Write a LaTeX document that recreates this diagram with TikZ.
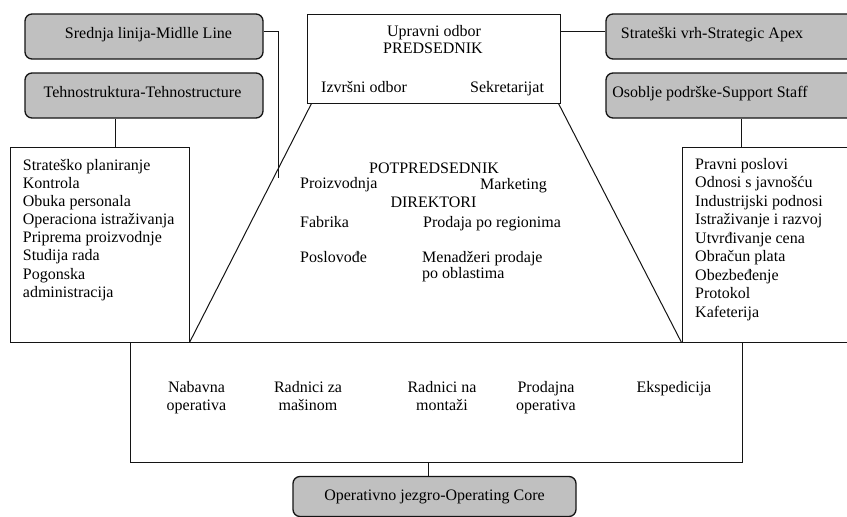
\documentclass[tikz,border=0pt]{standalone}
\usepackage{fontspec}
\setmainfont{Liberation Serif}
\usetikzlibrary{positioning,calc}
\definecolor{PartGrey}{RGB}{192,192,192}
\definecolor{LineBlack}{RGB}{20,20,20}
\tikzset{
  partbox/.style={draw=LineBlack,fill=PartGrey,rounded corners=7pt,
    line width=1.3pt,minimum height=45pt,inner sep=0pt},
  unitbox/.style={draw=LineBlack,line width=1pt,inner sep=0pt},
  link/.style={draw=LineBlack,line width=1pt},
  txt/.style={inner sep=0pt,font=\fontsize{16}{18}\selectfont}
}

\begin{document}
\begin{tikzpicture}[x=1pt,y=-1pt]
  \useasboundingbox (0,0) rectangle (847,517);
  \clip (0,0) rectangle (847,517);
  % grey part labels
  \node[partbox,minimum width=238pt] (middle) at (144,36.5) {};
  \node[partbox,minimum width=238pt] (tehno) at (144,95.5) {};
  \node[partbox,minimum width=274pt] (apex) at (743,36.5) {};
  \node[partbox,minimum width=274pt] (support) at (743,95.5) {};
  \node[partbox,minimum width=283pt,minimum height=40pt] (core) at (434.5,496.5) {};
  \node[txt,anchor=base] (middletxt) at (148.5,38) {Srednja linija-Midlle Line};
  \node[txt,anchor=base] (tehnotxt) at (142.5,97) {Tehnostruktura-Tehnostructure};
  \node[txt,anchor=base] (apextxt) at (712,38) {Strateški vrh-Strategic Apex};
  \node[txt,anchor=base] (supporttxt) at (710,97) {Osoblje podrške-Support Staff};
  \node[txt,anchor=base] (coretxt) at (434.5,500) {Operativno jezgro-Operating Core};
  % white units
  \node[unitbox,minimum width=253pt,minimum height=89pt] (board) at (433.5,58.5) {};
  \node[unitbox,minimum width=179pt,minimum height=195pt] (techlist) at (99.5,244.5) {};
  \node[unitbox,minimum width=198pt,minimum height=195pt] (stafflist) at (781,244.5) {};
  \node[unitbox,minimum width=612pt,minimum height=120pt] (ops) at (436,402) {};
  % top of the organisation
  \node[txt,anchor=base] (upravni) at (434,36) {Upravni odbor};
  \node[txt,anchor=base] (predsednik) at (433,53) {PREDSEDNIK};
  \node[txt,anchor=base west] (izvrsni) at (321,92) {Izvršni odbor};
  \node[txt,anchor=base west] (sekretar) at (470,92) {Sekretarijat};
  % middle line
  \node[txt,anchor=base] (potpred) at (434,173) {POTPREDSEDNIK};
  \node[txt,anchor=base west] (proizv) at (300,188) {Proizvodnja};
  \node[txt,anchor=base west] (market) at (480,189) {Marketing};
  \node[txt,anchor=base] (direkt) at (433.5,207) {DIREKTORI};
  \node[txt,anchor=base west] (fabrika) at (300,227) {Fabrika};
  \node[txt,anchor=base west] (prodreg) at (423,227) {Prodaja po regionima};
  \node[txt,anchor=base west] (poslov) at (300,262) {Poslovođe};
  \node[txt,anchor=base west] (menadz) at (422,262) {Menadžeri prodaje};
  \node[txt,anchor=base west] (oblast) at (422,278) {po oblastima};
  % lists
  \foreach \item [count=\i] in {Strateško planiranje,Kontrola,Obuka personala,
    Operaciona istraživanja,Priprema proizvodnje,Studija rada,Pogonska,administracija}
    \node[txt,anchor=base west] (tech\i) at (22.7,{170.7+18.05*(\i-1)}) {\item};
  \foreach \item [count=\i] in {Pravni poslovi,Odnosi s javnošću,Industrijski podnosi,
    Istraživanje i razvoj,Utvrđivanje cena,Obračun plata,Obezbeđenje,Protokol,Kafeterija}
    \node[txt,anchor=base west] (staff\i) at (695,{169+18.5*(\i-1)}) {\item};
  % operating core
  \foreach \x/\first/\second [count=\i] in {196.5/Nabavna/operativa,308/Radnici za/mašinom,
    442/Radnici na/montaži,546/Prodajna/operativa}{
    \node[txt,anchor=base] (opA\i) at (\x,392) {\first};
    \node[txt,anchor=base] (opB\i) at (\x,410) {\second};
  }
  \node[txt,anchor=base] (eksped) at (674,392) {Ekspedicija};
  % connectors
  \coordinate (midend) at (278,178);
  \draw[link] ([yshift=5.5pt]middle.east) -| (midend);
  \draw[link] ([xshift=-29pt]tehno.south) -- ([xshift=-29pt]tehno.south |- techlist.north);
  \draw[link] ([yshift=5.5pt]apex.west) -- ([yshift=5.5pt]apex.west -| board.east);
  \draw[link] ([xshift=-2pt]support.south) -- ([xshift=-2pt]support.south |- stafflist.north);
  \draw[link] ([xshift=5pt]board.south west) -- (techlist.south east);
  \draw[link] ([xshift=-2pt]board.south east) -- (stafflist.south west);
  \draw[link] ([xshift=-6.5pt]core.north) -- ([xshift=-6.5pt]core.north |- ops.south);
\end{tikzpicture}
\end{document}
